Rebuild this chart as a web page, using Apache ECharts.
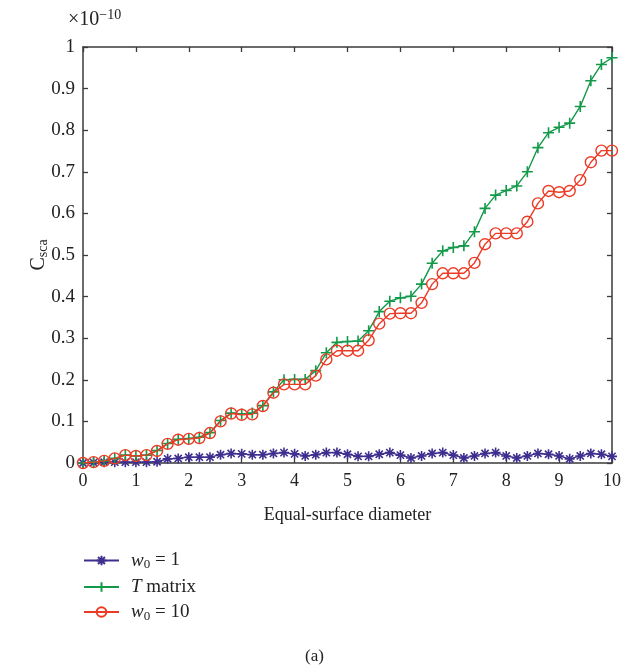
<!DOCTYPE html>
<html>
<head>
<meta charset="utf-8">
<script src="https://cdn.jsdelivr.net/npm/echarts@6/dist/echarts.min.js"></script>
<style>
  html, body { margin: 0; padding: 0; background: #fff; }
  #chart { width: 635px; height: 672px; }
</style>
</head>
<body>
<div id="chart"></div>
<script>
// Equal-surface diameter samples (0 to 10, step 0.2)
const diameters = [
  0, 0.2, 0.4, 0.6, 0.8, 1.0, 1.2, 1.4, 1.6, 1.8,
  2.0, 2.2, 2.4, 2.6, 2.8, 3.0, 3.2, 3.4, 3.6, 3.8,
  4.0, 4.2, 4.4, 4.6, 4.8, 5.0, 5.2, 5.4, 5.6, 5.8,
  6.0, 6.2, 6.4, 6.6, 6.8, 7.0, 7.2, 7.4, 7.6, 7.8,
  8.0, 8.2, 8.4, 8.6, 8.8, 9.0, 9.2, 9.4, 9.6, 9.8, 10.0
];

// Scattering cross section, in units of 1e-10
const csW1 = [
  0, 0.001, 0.002, 0.002, 0.002, 0.002, 0.002, 0.003, 0.010, 0.011,
  0.014, 0.014, 0.014, 0.020, 0.023, 0.022, 0.020, 0.020, 0.023, 0.025,
  0.022, 0.017, 0.020, 0.025, 0.025, 0.021, 0.016, 0.016, 0.021, 0.025,
  0.019, 0.012, 0.017, 0.023, 0.025, 0.019, 0.012, 0.017, 0.023, 0.025,
  0.017, 0.012, 0.017, 0.023, 0.021, 0.017, 0.010, 0.017, 0.023, 0.021, 0.016
];
const csTMatrix = [
  0, 0.002, 0.005, 0.011, 0.019, 0.017, 0.019, 0.030, 0.047, 0.057,
  0.059, 0.062, 0.073, 0.102, 0.120, 0.118, 0.120, 0.138, 0.171, 0.200,
  0.201, 0.201, 0.222, 0.265, 0.290, 0.292, 0.293, 0.318, 0.364, 0.389,
  0.397, 0.401, 0.430, 0.480, 0.510, 0.518, 0.522, 0.556, 0.612, 0.644,
  0.655, 0.666, 0.700, 0.758, 0.794, 0.807, 0.817, 0.857, 0.919, 0.958, 0.974
];
const csW10 = [
  0, 0.002, 0.005, 0.011, 0.019, 0.017, 0.019, 0.029, 0.046, 0.056,
  0.058, 0.060, 0.072, 0.100, 0.119, 0.116, 0.117, 0.137, 0.169, 0.189,
  0.189, 0.189, 0.210, 0.249, 0.270, 0.270, 0.270, 0.295, 0.335, 0.359,
  0.360, 0.360, 0.385, 0.430, 0.456, 0.456, 0.456, 0.481, 0.526, 0.552,
  0.552, 0.552, 0.580, 0.624, 0.654, 0.651, 0.654, 0.680, 0.723, 0.751, 0.751
];

const seriesNames = ['w0 = 1', 'T matrix', 'w0 = 10'];
const xTicks = [0, 1, 2, 3, 4, 5, 6, 7, 8, 9, 10];
const yTicks = ['0', '0.1', '0.2', '0.3', '0.4', '0.5', '0.6', '0.7', '0.8', '0.9', '1'];

const FONT = '"Liberation Serif", "DejaVu Serif", serif';
const AXIS_COLOR = '#3a3a3a';
const TEXT_COLOR = '#222';
const BLUE = '#3e2f8e';
const GREEN = '#12994a';
const RED = '#ec3b25';

const pair = (xs, ys) => xs.map((x, i) => [x, ys[i]]);

// marker shapes: eight-arm asterisk, plus sign
const starPath = 'path://M0,-5L0,5M-5,0L5,0M-3.6,-3.6L3.6,3.6M-3.6,3.6L3.6,-3.6';
const plusPath = 'path://M0,-5L0,5M-5,0L5,0';

const legendRich = {
  it: { fontFamily: FONT, fontStyle: 'italic', fontSize: 19, color: TEXT_COLOR },
  sub: { fontFamily: FONT, fontSize: 13, color: TEXT_COLOR, padding: [9, 0, 0, 0] },
  n: { fontFamily: FONT, fontSize: 19, color: TEXT_COLOR }
};

const axisLineStyle = { show: true, onZero: false, lineStyle: { color: AXIS_COLOR, width: 1.5 } };
const axisTickStyle = { show: true, inside: true, length: 5, lineStyle: { color: AXIS_COLOR, width: 1.3 } };

// mirrored axes that close the frame on the top and right
const frameAxis = (extra) => Object.assign({
  type: 'value',
  axisLine: axisLineStyle,
  axisTick: axisTickStyle,
  axisLabel: { show: false },
  splitLine: { show: false }
}, extra);

const chart = echarts.init(document.getElementById('chart'), null, { renderer: 'canvas' });

chart.setOption({
  backgroundColor: '#fff',
  animation: false,
  grid: { left: 83, right: 23, top: 47, bottom: 209, containLabel: false },
  xAxis: [{
    type: 'value', min: 0, max: 10, interval: 1,
    name: 'Equal-surface diameter',
    nameLocation: 'middle', nameGap: 43,
    nameTextStyle: { fontFamily: FONT, fontSize: 18, color: TEXT_COLOR },
    axisLine: axisLineStyle,
    axisTick: axisTickStyle,
    axisLabel: {
      fontFamily: FONT, fontSize: 18, color: TEXT_COLOR, margin: 9,
      formatter: v => String(xTicks[Math.round(v)])
    },
    splitLine: { show: false }
  }, frameAxis({ position: 'top', min: 0, max: 10, interval: 1 })],
  yAxis: [{
    type: 'value', min: 0, max: 1, interval: 0.1,
    name: '{c|C}{s|sca}',
    nameLocation: 'middle', nameGap: 33, nameRotate: 90,
    nameMoveOverlap: false,
    nameTextStyle: {
      rich: {
        c: { fontFamily: FONT, fontSize: 20, color: TEXT_COLOR },
        s: { fontFamily: FONT, fontSize: 14, color: TEXT_COLOR, padding: [9, 0, 0, 0] }
      }
    },
    axisLine: axisLineStyle,
    axisTick: axisTickStyle,
    axisLabel: {
      fontFamily: FONT, fontSize: 19, color: TEXT_COLOR, margin: 8,
      formatter: v => yTicks[Math.round(v * 10)]
    },
    splitLine: { show: false }
  }, frameAxis({ position: 'right', min: 0, max: 1, interval: 0.1 })],
  legend: {
    orient: 'vertical',
    left: 83, top: 551,
    itemWidth: 35, itemHeight: 12, itemGap: 6,
    padding: 0,
    data: seriesNames,
    textStyle: { fontFamily: FONT, fontSize: 19, color: TEXT_COLOR, padding: [0, 0, 0, 7], rich: legendRich },
    formatter: name => {
      if (name === 'T matrix') return '{it|T} {n|matrix}';
      const num = name.split('= ')[1];
      return '{it|w}{sub|0}{n| = ' + num + '}';
    }
  },
  graphic: [
    {
      type: 'text', left: 68, top: 8,
      style: {
        text: '{m|×10}{e|−10}',
        rich: {
          m: { fontFamily: FONT, fontSize: 20, fill: TEXT_COLOR },
          e: { fontFamily: FONT, fontSize: 14, fill: TEXT_COLOR, padding: [0, 0, 9, 0] }
        }
      }
    },
    {
      type: 'text', left: 305, top: 648,
      style: { text: '(a)', fontFamily: FONT, fontSize: 17, fill: TEXT_COLOR }
    }
  ],
  series: [
    {
      name: seriesNames[0], type: 'line', data: pair(diameters, csW1),
      symbol: starPath, symbolSize: 10,
      itemStyle: { color: BLUE, borderColor: BLUE, borderWidth: 1.6 },
      lineStyle: { color: BLUE, width: 1.4 }, z: 2
    },
    {
      name: seriesNames[1], type: 'line', data: pair(diameters, csTMatrix),
      symbol: plusPath, symbolSize: 11,
      itemStyle: { color: GREEN, borderColor: GREEN, borderWidth: 1.6 },
      lineStyle: { color: GREEN, width: 1.4 }, z: 3
    },
    {
      name: seriesNames[2], type: 'line', data: pair(diameters, csW10),
      symbol: 'circle', symbolSize: 11,
      itemStyle: { color: 'rgba(255,255,255,0)', borderColor: RED, borderWidth: 1.4 },
      lineStyle: { color: RED, width: 1.4 }, z: 4
    }
  ]
});
</script>
</body>
</html>
